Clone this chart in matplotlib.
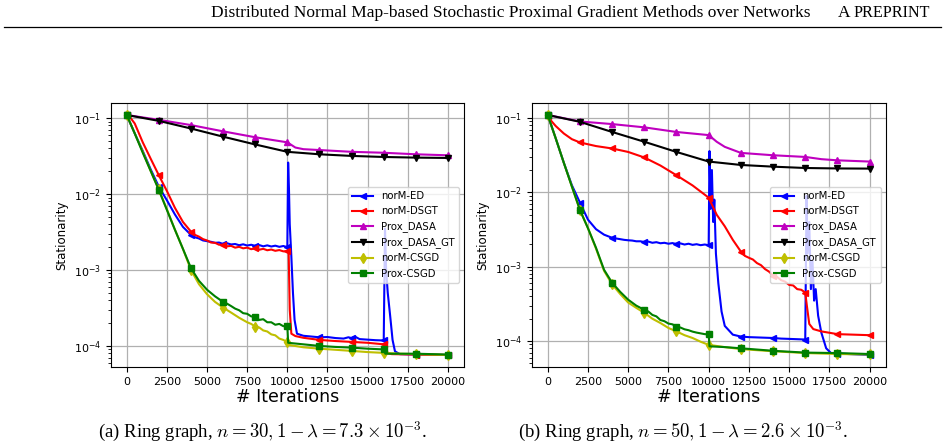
import matplotlib
matplotlib.use("Agg")
import matplotlib.pyplot as plt
import numpy as np

labels = ["norM-ED", "norM-DSGT", "Prox_DASA", "Prox_DASA_GT", "norM-CSGD", "Prox-CSGD"]
colors = ["b", "r", "m", "k", "y", "g"]
markers = ["<", "<", "^", "v", "d", "s"]

# (a) ring graph, n = 30
ed_a = [(0, 0.11), (500, 0.063), (1000, 0.037), (1500, 0.021), (2000, 0.0125), (2500, 8.3e-3),
        (3000, 5.4e-3), (3500, 3.7e-3), (4000, 2.9e-3), (4250, 2.7e-3), (4500, 2.6e-3), (4750, 2.45e-3),
        (5000, 2.4e-3), (5250, 2.35e-3), (5500, 2.28e-3), (5750, 2.3e-3), (6000, 2.2e-3), (6250, 2.25e-3),
        (6500, 2.17e-3), (6750, 2.2e-3), (7000, 2.12e-3), (7250, 2.18e-3), (7500, 2.1e-3), (7750, 2.15e-3),
        (8000, 2.08e-3), (8250, 2.13e-3), (8500, 2.05e-3), (8750, 2.11e-3), (9000, 2.04e-3), (9250, 2.09e-3),
        (9500, 2.02e-3), (9750, 2.07e-3), (10000, 2.0e-3), (10050, 0.026), (10100, 0.012), (10150, 4e-3),
        (10250, 1.5e-3), (10350, 5e-4), (10450, 2.2e-4), (10600, 1.45e-4), (11000, 1.36e-4), (11500, 1.33e-4),
        (12000, 1.3e-4), (12500, 1.31e-4), (13000, 1.27e-4), (13500, 1.25e-4), (13800, 1.3e-4), (14000, 1.27e-4),
        (14200, 1.33e-4), (14500, 1.23e-4), (15000, 1.21e-4), (15500, 1.19e-4), (16000, 1.18e-4), (16080, 3.5e-3),
        (16150, 1.0e-3), (16250, 5e-4), (16400, 2.5e-4), (16550, 1.2e-4), (16700, 8.5e-5), (17000, 7.8e-5),
        (18000, 7.7e-5), (20000, 7.6e-5)]
dsgt_a = [(0, 0.11), (250, 0.1), (500, 0.085), (1000, 0.048), (1500, 0.029), (2000, 0.0177), (2500, 0.011),
          (3000, 6.6e-3), (3500, 4.3e-3), (4000, 3.2e-3), (4250, 2.9e-3), (4500, 2.75e-3), (4750, 2.55e-3),
          (5000, 2.45e-3), (5250, 2.3e-3), (5500, 2.28e-3), (5750, 2.15e-3), (6000, 2.15e-3), (6250, 2.05e-3),
          (6500, 2.08e-3), (6750, 1.97e-3), (7000, 2.02e-3), (7250, 1.93e-3), (7500, 1.97e-3), (7750, 1.88e-3),
          (8000, 1.93e-3), (8250, 1.85e-3), (8500, 1.9e-3), (8750, 1.82e-3), (9000, 1.86e-3), (9250, 1.79e-3),
          (9500, 1.83e-3), (9750, 1.76e-3), (10000, 1.77e-3), (10080, 1.8e-3), (10150, 3e-4), (10250, 1.45e-4),
          (10500, 1.35e-4), (11000, 1.28e-4), (12000, 1.2e-4), (13000, 1.16e-4), (14000, 1.13e-4),
          (15000, 1.1e-4), (16000, 1.05e-4), (16100, 1.0e-4), (16250, 8e-5), (16500, 7.8e-5), (18000, 7.7e-5),
          (20000, 7.6e-5)]
dasa_a = [(0, 0.11), (2000, 0.095), (4000, 0.081), (6000, 0.067), (8000, 0.056), (10000, 0.048),
          (10500, 0.041), (11000, 0.039), (12000, 0.038), (14000, 0.036), (16000, 0.035), (18000, 0.0334),
          (20000, 0.0324)]
dasa_gt_a = [(0, 0.11), (2000, 0.092), (4000, 0.073), (6000, 0.057), (8000, 0.045), (10000, 0.036),
             (12000, 0.0334), (14000, 0.0318), (16000, 0.0308), (18000, 0.0302), (20000, 0.0299)]
ncsgd_a = [(0, 0.11), (500, 0.063), (1000, 0.036), (1500, 0.02), (2000, 0.0115), (2500, 6.3e-3),
           (3000, 3.4e-3), (3500, 1.9e-3), (4000, 1.0e-3), (4500, 6.5e-4), (5000, 4.8e-4), (5500, 3.8e-4),
           (6000, 3.2e-4), (6500, 2.75e-4), (7000, 2.35e-4), (7500, 2.05e-4), (7750, 1.95e-4), (8000, 1.8e-4),
           (8250, 1.75e-4), (8500, 1.6e-4), (8750, 1.55e-4), (9000, 1.42e-4), (9250, 1.38e-4), (9500, 1.25e-4),
           (9750, 1.2e-4), (10000, 1.12e-4), (10100, 1.03e-4), (11000, 9.6e-5),
           (12000, 9.2e-5), (13000, 8.9e-5), (14000, 8.6e-5), (15000, 8.3e-5), (16000, 8.1e-5),
           (17000, 7.9e-5), (18000, 7.8e-5), (20000, 7.6e-5)]
pcsgd_a = [(0, 0.11), (500, 0.063), (1000, 0.035), (1500, 0.02), (2000, 0.0113), (2500, 6.2e-3),
           (3000, 3.4e-3), (3500, 1.9e-3), (4000, 1.06e-3), (4500, 7.2e-4), (5000, 5.5e-4), (5500, 4.5e-4),
           (6000, 3.8e-4), (6250, 3.6e-4), (6500, 3.35e-4), (6750, 3.1e-4), (7000, 2.95e-4), (7250, 2.7e-4),
           (7500, 2.65e-4), (7750, 2.45e-4), (8000, 2.42e-4), (8250, 2.2e-4), (8500, 2.25e-4), (8750, 2.05e-4),
           (9000, 2.05e-4), (9250, 1.9e-4), (9500, 1.95e-4), (9750, 1.82e-4), (10000, 1.84e-4),
           (10050, 1.1e-4), (11000, 1.05e-4), (12000, 1.0e-4), (13000, 9.7e-5), (14000, 9.5e-5),
           (15000, 9.2e-5), (16000, 9.0e-5), (16100, 7.9e-5), (18000, 7.9e-5), (20000, 7.7e-5)]

# (b) ring graph, n = 50
ed_b = [(0, 0.11), (500, 0.053), (1000, 0.025), (1500, 0.0125), (2000, 7.3e-3), (2500, 4.3e-3),
        (3000, 3.2e-3), (3500, 2.7e-3), (4000, 2.45e-3), (4250, 2.4e-3), (4500, 2.35e-3), (4750, 2.3e-3),
        (5000, 2.27e-3), (5250, 2.25e-3), (5500, 2.2e-3), (5750, 2.2e-3), (6000, 2.15e-3), (6250, 2.18e-3),
        (6500, 2.1e-3), (6750, 2.14e-3), (7000, 2.07e-3), (7250, 2.1e-3), (7500, 2.04e-3), (7750, 2.08e-3),
        (8000, 2.02e-3), (8250, 2.06e-3), (8500, 1.99e-3), (8750, 2.04e-3), (9000, 1.97e-3), (9250, 2.01e-3),
        (9500, 1.95e-3), (9750, 1.99e-3), (10000, 1.95e-3), (10050, 0.036), (10120, 6e-3), (10200, 0.02),
        (10280, 4e-3), (10350, 8e-3), (10450, 1.5e-3), (10600, 6e-4), (10800, 2.5e-4), (11000, 1.6e-4),
        (11500, 1.22e-4), (12000, 1.15e-4), (12500, 1.13e-4), (13000, 1.12e-4), (13500, 1.11e-4),
        (14000, 1.1e-4), (14500, 1.08e-4), (15000, 1.07e-4), (15500, 1.06e-4),
        (16000, 1.05e-4), (16080, 9e-3), (16150, 1.5e-3), (16250, 4e-3), (16350, 5e-4), (16450, 1.2e-3),
        (16550, 3.5e-4), (16650, 5e-4), (16800, 2.2e-4), (17000, 1.3e-4), (17300, 8e-5), (17600, 6.9e-5),
        (18000, 6.8e-5), (20000, 6.5e-5)]
dsgt_b = [(0, 0.105), (250, 0.09), (500, 0.078), (1000, 0.062), (1500, 0.052), (2000, 0.047), (3000, 0.042),
          (4000, 0.039), (5000, 0.035), (6000, 0.0295), (7000, 0.023), (8000, 0.017), (9000, 0.0124),
          (10000, 8.5e-3), (10500, 5e-3), (11000, 3.5e-3), (11500, 2.3e-3), (12000, 1.6e-3), (12250, 1.4e-3),
          (12500, 1.32e-3), (12750, 1.25e-3), (13000, 1.12e-3), (13250, 1.05e-3), (13500, 9.3e-4),
          (13750, 8.6e-4), (14000, 7.6e-4), (14250, 7.3e-4), (14500, 6.6e-4), (14750, 6.3e-4), (15000, 5.7e-4),
          (15250, 5.6e-4), (15500, 5.0e-4), (15750, 4.9e-4), (16000, 4.5e-4), (16100, 3e-4), (16250, 1.7e-4),
          (16500, 1.45e-4), (17000, 1.35e-4), (18000, 1.24e-4), (19000, 1.22e-4), (20000, 1.2e-4)]
dasa_b = [(0, 0.11), (2000, 0.090), (4000, 0.083), (6000, 0.075), (8000, 0.065), (10000, 0.059),
          (10500, 0.048), (11000, 0.041), (12000, 0.034), (14000, 0.0316), (16000, 0.030), (17000, 0.028),
          (18000, 0.027), (20000, 0.026)]
dasa_gt_b = [(0, 0.11), (2000, 0.089), (4000, 0.065), (6000, 0.048), (8000, 0.035), (10000, 0.026),
             (12000, 0.0234), (14000, 0.0222), (16000, 0.0213), (18000, 0.021), (20000, 0.0209)]
ncsgd_b = [(0, 0.11), (500, 0.053), (1000, 0.025), (1500, 0.012), (2000, 5.8e-3), (2500, 3.3e-3),
           (3000, 1.75e-3), (3500, 8.8e-4), (4000, 5.8e-4), (4500, 4.3e-4), (5000, 3.3e-4), (5500, 2.8e-4),
           (6000, 2.4e-4), (6500, 2.0e-4), (7000, 1.75e-4), (7500, 1.5e-4), (8000, 1.35e-4), (8500, 1.2e-4),
           (9000, 1.1e-4), (9500, 9.8e-5), (10000, 8.9e-5), (11000, 8.3e-5), (12000, 7.8e-5),
           (14000, 7.3e-5), (16000, 6.9e-5), (18000, 6.7e-5), (20000, 6.6e-5)]
pcsgd_b = [(0, 0.11), (500, 0.053), (1000, 0.025), (1500, 0.012), (2000, 5.8e-3), (2500, 3.3e-3),
           (3000, 1.8e-3), (3500, 9.1e-4), (4000, 6.1e-4), (4500, 4.6e-4), (5000, 3.6e-4), (5500, 3.0e-4),
           (6000, 2.63e-4), (6250, 2.5e-4), (6500, 2.25e-4), (6750, 2.15e-4), (7000, 1.92e-4), (7250, 1.85e-4),
           (7500, 1.72e-4), (7750, 1.68e-4), (8000, 1.56e-4), (8250, 1.52e-4), (8500, 1.44e-4), (8750, 1.4e-4),
           (9000, 1.34e-4), (9250, 1.3e-4), (9500, 1.27e-4), (9750, 1.24e-4), (10000, 1.23e-4),
           (10050, 8.5e-5), (11000, 8.3e-5), (12000, 8.0e-5), (14000, 7.4e-5), (16000, 7.0e-5),
           (18000, 6.9e-5), (20000, 6.7e-5)]

captions = [r"(a) Ring graph, $n = 30, 1-\lambda = 7.3\times10^{-3}$.",
            r"(b) Ring graph, $n = 50, 1-\lambda = 2.6\times10^{-3}$."]
caption_x = [0.2774, 0.7205]

fig = plt.figure(figsize=(9.48, 4.47), dpi=100)

# page header
fig.text(0.855, 0.972, "Distributed Normal Map-based Stochastic Proximal Gradient Methods over Networks",
         ha="right", va="center", family="Liberation Serif", fontsize=12.5)
fig.text(0.884, 0.972, "A", ha="left", va="center", family="Liberation Serif", fontsize=12.5)
fig.text(0.9, 0.972, "PREPRINT", ha="left", va="center", family="Liberation Serif", fontsize=11.6)
fig.add_artist(plt.Line2D([0.004, 0.993], [0.94, 0.94], color="k", lw=0.9))

panels = [
    ([0.1167, 0.179, 0.3728, 0.5906], [ed_a, dsgt_a, dasa_a, dasa_gt_a, ncsgd_a, pcsgd_a]),
    ([0.5608, 0.179, 0.3735, 0.5906], [ed_b, dsgt_b, dasa_b, dasa_gt_b, ncsgd_b, pcsgd_b]),
]

for i, (pos, series) in enumerate(panels):
    ax = fig.add_axes(pos)
    for s, lab, c, m in zip(series, labels, colors, markers):
        x = np.array([p[0] for p in s])
        y = np.array([p[1] for p in s])
        idx = list(np.where(x % 2000 == 0)[0])
        ax.plot(x, y, color=c, marker=m, markersize=5, markevery=idx, lw=1.5, label=lab)
    ax.set_yscale("log")
    ax.set_xticks(np.arange(0, 20001, 2500))
    ax.grid(True, which="major", color="#b0b0b0", lw=0.9)
    ax.tick_params(labelsize=8)
    ax.set_xlabel("# Iterations", fontsize=12.5, labelpad=1)
    ax.set_ylabel("Stationarity", fontsize=8.5)
    ax.legend(loc="center right", fontsize=7.3, borderpad=0.45, labelspacing=0.5, handlelength=2.0)
    fig.text(caption_x[i], 0.034, captions[i], ha="center", va="center", family="Liberation Serif",
             fontsize=13.5, math_fontfamily="cm")

fig.savefig("out.png", dpi=100)
